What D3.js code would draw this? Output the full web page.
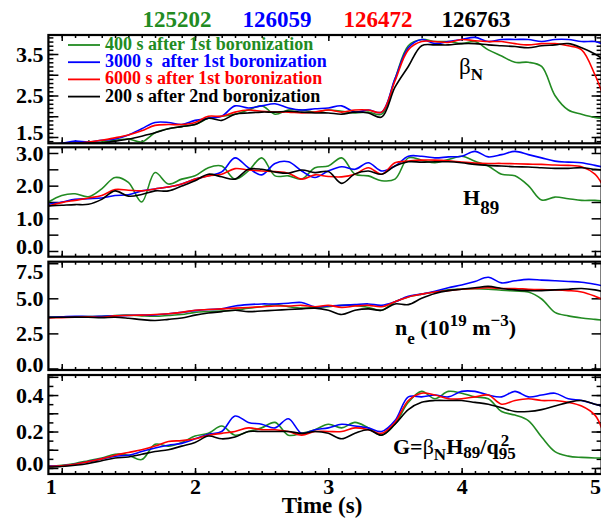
<!DOCTYPE html>
<html>
<head>
<meta charset="utf-8">
<script src="https://cdn.jsdelivr.net/npm/d3@7"></script>
</head>
<body style="margin:0">
<div id="chart"></div>
<script>
// time samples (s)
const time = [0.9, 1.0, 1.1, 1.2, 1.3, 1.4, 1.5, 1.6, 1.7, 1.8, 1.9, 2.0, 2.1, 2.2, 2.3, 2.4, 2.5,
    2.6, 2.7, 2.8, 2.9, 3.0, 3.1, 3.2, 3.3, 3.4, 3.5, 3.6, 3.7, 3.8, 3.9, 4.0, 4.1, 4.2, 4.3, 4.4,
    4.5, 4.6, 4.7, 4.8, 4.9, 5.0, 5.05];

const shots = ["125202", "126059", "126472", "126763"];
const legendLabels = ["400 s after 1st boronization", "3000 s\u00a0 after 1st boronization",
    "6000 s after 1st boronization", "200 s after 2nd boronization"];
const colors = ["#228b22", "#0000ff", "#ff0000", "#000000"];

// beta_N
const betaN_125202 = [1.3, 1.33, 1.35, 1.37, 1.38, 1.42, 1.45, 1.38, 1.6, 1.7, 1.75, 1.8, 1.95, 2.0, 2.05, 2.15, 2.25,
    2.05, 2.15, 2.15, 2.1, 2.15, 2.12, 2.08, 2.1, 2.05, 2.9, 3.7, 3.85, 3.8, 3.8, 3.75, 3.8, 3.6, 3.45, 3.3,
    3.3, 3.2, 2.5, 2.15, 2.05, 1.97, 1.95];
const betaN_126059 = [1.3, 1.35, 1.4, 1.38, 1.42, 1.45, 1.55, 1.7, 1.85, 1.85, 1.8, 1.9, 1.95, 2.0, 2.25, 2.2, 2.25,
    2.3, 2.2, 2.15, 2.18, 2.2, 2.25, 2.1, 2.15, 2.1, 2.9, 3.65, 3.85, 3.75, 3.8, 3.85, 3.9, 3.8, 3.85, 3.85,
    3.85, 3.8, 3.85, 3.85, 3.8, 3.8, 3.75];
const betaN_126472 = [1.3, 1.33, 1.35, 1.38, 1.42, 1.48, 1.55, 1.65, 1.78, 1.8, 1.8, 1.85, 2.0, 2.0, 2.1, 2.15, 2.12,
    2.1, 2.1, 2.08, 2.1, 2.15, 2.1, 2.15, 2.15, 2.1, 2.85, 3.6, 3.8, 3.8, 3.78, 3.85, 3.82, 3.8, 3.8, 3.75,
    3.72, 3.75, 3.75, 3.7, 3.6, 3.0, 2.6];
const betaN_126763 = [1.3, 1.32, 1.33, 1.35, 1.35, 1.4, 1.45, 1.52, 1.6, 1.7, 1.75, 1.8, 1.95, 1.9, 2.05, 2.08, 2.1,
    2.1, 2.12, 2.1, 2.08, 2.08, 2.05, 2.1, 2.08, 1.98, 2.7, 3.2, 3.7, 3.72, 3.72, 3.75, 3.75, 3.72, 3.7, 3.68,
    3.65, 3.7, 3.72, 3.75, 3.65, 3.5, 3.4];

// H89
const h89_125202 = [1.5, 1.7, 1.75, 1.66, 1.9, 2.25, 2.1, 1.5, 2.4, 2.05, 2.2, 2.3, 2.55, 2.6, 2.2, 2.45, 2.85,
    2.3, 2.3, 2.2, 2.55, 2.6, 2.85, 2.35, 2.3, 2.15, 2.2, 2.85, 2.78, 2.7, 2.8, 2.9, 2.75, 2.6, 2.35, 2.3,
    2.0, 1.56, 1.65, 1.6, 1.55, 1.55, 1.53];
const h89_126059 = [1.43, 1.5, 1.58, 1.6, 1.62, 1.7, 1.72, 1.84, 1.9, 1.96, 2.05, 2.2, 2.3, 2.42, 2.85, 2.55, 2.33,
    2.68, 2.73, 2.45, 2.25, 2.45, 2.58, 2.5, 2.7, 2.45, 2.6, 2.9, 2.9, 2.85, 2.88, 2.9, 3.05, 2.88, 2.95, 3.05,
    2.95, 2.85, 2.75, 2.72, 2.7, 2.62, 2.58];
const h89_126472 = [1.38, 1.48, 1.55, 1.62, 1.7, 1.88, 1.86, 1.84, 1.9, 1.96, 2.05, 2.2, 2.3, 2.35, 2.52, 2.48, 2.45,
    2.43, 2.38, 2.2, 2.33, 2.28, 2.27, 2.35, 2.55, 2.35, 2.7, 2.75, 2.78, 2.78, 2.76, 2.72, 2.69, 2.68, 2.68, 2.67,
    2.66, 2.65, 2.63, 2.62, 2.58, 2.35, 2.07];
const h89_126763 = [1.38, 1.4, 1.42, 1.43, 1.58, 1.84, 1.68, 1.73, 1.84, 1.84, 1.99, 2.15, 2.35, 2.27, 2.2, 2.5, 2.5,
    2.42, 2.38, 2.48, 2.4, 2.43, 2.07, 2.36, 2.45, 2.35, 2.6, 2.73, 2.72, 2.73, 2.73, 2.7, 2.65, 2.62, 2.6, 2.58,
    2.57, 2.55, 2.53, 2.53, 2.55, 2.5, 2.48];

// n_e (10^19 m^-3)
const ne_125202 = [3.64, 3.65, 3.68, 3.7, 3.72, 3.78, 3.8, 3.75, 3.72, 3.78, 3.85, 4.0, 4.05, 4.1, 4.15, 4.3, 4.4,
    4.55, 4.4, 4.3, 4.35, 4.4, 4.5, 4.5, 4.35, 4.15, 4.75, 5.1, 5.3, 5.45, 5.6, 5.65, 5.68, 5.65, 5.58, 5.52,
    5.45, 4.95, 4.0, 3.75, 3.6, 3.5, 3.45];
const ne_126059 = [3.64, 3.68, 3.72, 3.7, 3.72, 3.75, 3.78, 3.8, 3.82, 3.9, 4.0, 4.12, 4.2, 4.25, 4.45, 4.55, 4.6,
    4.6, 4.65, 4.7, 4.4, 4.45, 4.5, 4.55, 4.6, 4.5, 4.75, 5.15, 5.3, 5.5, 5.75, 5.95, 6.2, 6.5, 6.1, 6.25,
    6.35, 6.3, 6.25, 6.2, 6.15, 6.0, 5.9];
const ne_126472 = [3.6, 3.62, 3.65, 3.68, 3.65, 3.75, 3.78, 3.8, 3.85, 3.9, 4.0, 4.15, 4.2, 4.25, 4.3, 4.35, 4.4,
    4.45, 4.45, 4.5, 4.4, 4.5, 4.35, 4.45, 4.5, 4.4, 4.75, 5.1, 5.3, 5.45, 5.55, 5.65, 5.7, 5.75, 5.7, 5.7,
    5.65, 5.62, 5.6, 5.55, 5.45, 5.15, 4.95];
const ne_126763 = [3.64, 3.65, 3.66, 3.65, 3.62, 3.65, 3.58, 3.48, 3.42, 3.5, 3.6, 3.8, 3.95, 4.05, 4.15, 4.05, 4.1,
    4.15, 4.2, 4.25, 4.3, 4.15, 3.85, 4.15, 4.25, 4.15, 4.6, 4.55, 5.0, 5.35, 5.55, 5.65, 5.75, 5.85, 5.7, 5.6,
    5.55, 5.55, 5.6, 5.65, 5.7, 5.6, 5.5];

// G = beta_N H89 / q95^2
const g_125202 = [0.01, 0.015, 0.025, 0.04, 0.055, 0.075, 0.07, 0.046, 0.13, 0.12, 0.14, 0.175, 0.19, 0.23, 0.18, 0.2, 0.22,
    0.25, 0.18, 0.19, 0.21, 0.24, 0.22, 0.25, 0.22, 0.18, 0.24, 0.36, 0.42, 0.38, 0.42, 0.41, 0.39, 0.38, 0.31, 0.29,
    0.26, 0.17, 0.09, 0.065, 0.058, 0.055, 0.055];
const g_126059 = [0.01, 0.012, 0.02, 0.035, 0.05, 0.065, 0.07, 0.09, 0.11, 0.125, 0.135, 0.16, 0.185, 0.2, 0.285, 0.25, 0.24,
    0.22, 0.27, 0.19, 0.21, 0.22, 0.24, 0.23, 0.22, 0.2, 0.26, 0.39, 0.39, 0.4, 0.39, 0.42, 0.42, 0.4, 0.39, 0.42,
    0.39, 0.4, 0.41, 0.38, 0.37, 0.35, 0.34];
const g_126472 = [0.008, 0.012, 0.02, 0.035, 0.05, 0.07, 0.085, 0.1, 0.12, 0.145, 0.15, 0.16, 0.18, 0.19, 0.2, 0.22, 0.21,
    0.21, 0.2, 0.18, 0.2, 0.2, 0.2, 0.22, 0.21, 0.19, 0.25, 0.37, 0.41, 0.4, 0.38, 0.38, 0.39, 0.4, 0.35, 0.37,
    0.38, 0.37, 0.37, 0.36, 0.34, 0.29, 0.22];
const g_126763 = [0.005, 0.008, 0.015, 0.025, 0.04, 0.055, 0.06, 0.075, 0.09, 0.1, 0.12, 0.14, 0.175, 0.16, 0.17, 0.2, 0.2,
    0.2, 0.2, 0.19, 0.2, 0.19, 0.16, 0.19, 0.21, 0.18, 0.24, 0.32, 0.36, 0.37, 0.37, 0.37, 0.36, 0.35, 0.33, 0.31,
    0.31, 0.32, 0.34, 0.36, 0.37, 0.35, 0.34];

// tick labels
const timeTicks = [1, 2, 3, 4, 5];
const betaTicks = [1.5, 2.5, 3.5];
const h89Ticks = [0.0, 1.0, 2.0, 3.0];
const neTicks = [0.0, 2.5, 5.0, 7.5];
const gTicks = [0.0, 0.2, 0.4];

const W = 601, H = 519;
const x0 = 48.4, x1 = 601.6;
const FONT = "'Liberation Serif', 'Times New Roman', Tinos, serif";

const svg = d3.select("#chart")
    .append("svg")
    .attr("width", W)
    .attr("height", H);

svg.append("rect").attr("width", W).attr("height", H).attr("fill", "#fff");

const x = d3.scaleLinear()
    .domain([0.9, 5.05])
    .range([x0, x1]);

const panels = [
    { series: [betaN_125202, betaN_126059, betaN_126472, betaN_126763], top: 35, bottom: 143.3,
      domain: [1.348, 3.958], labels: betaTicks, major: 0.5, minor: 0.1 },
    { series: [h89_125202, h89_126059, h89_126472, h89_126763], top: 147.3, bottom: 256.7,
      domain: [-0.175, 3.174], labels: h89Ticks, major: 0.5, minor: null },
    { series: [ne_125202, ne_126059, ne_126472, ne_126763], top: 261.7, bottom: 370,
      domain: [-0.11, 7.61], labels: neTicks, major: 2.5, minor: null },
    { series: [g_125202, g_126059, g_126472, g_126763], top: 375, bottom: 474,
      domain: [-0.033, 0.51], labels: gTicks, major: 0.1, minor: 0.05 }
];

const fmt = d3.format(".1f");

function stepTicks(domain, step) {
    const start = Math.ceil(domain[0] / step - 1e-6) * step;
    return d3.range(start, domain[1] + 1e-6, step);
}

panels.forEach((p, i) => {
    const y = d3.scaleLinear().domain(p.domain).range([p.bottom, p.top]);
    const g = svg.append("g").attr("class", "panel");

    svg.append("clipPath").attr("id", "clip" + i)
        .append("rect")
        .attr("x", x0).attr("y", p.top)
        .attr("width", x1 - x0).attr("height", p.bottom - p.top);

    // minor y ticks
    if (p.minor) {
        g.append("g").attr("transform", `translate(${x0},0)`)
            .call(d3.axisLeft(y).tickValues(stepTicks(p.domain, p.minor)).tickSize(-5).tickFormat(""));
        g.append("g").attr("transform", `translate(${x1},0)`)
            .call(d3.axisRight(y).tickValues(stepTicks(p.domain, p.minor)).tickSize(-5).tickFormat(""));
    }
    // major y ticks
    g.append("g").attr("transform", `translate(${x0},0)`)
        .call(d3.axisLeft(y).tickValues(stepTicks(p.domain, p.major)).tickSize(-10).tickFormat(""));
    g.append("g").attr("transform", `translate(${x1},0)`)
        .call(d3.axisRight(y).tickValues(stepTicks(p.domain, p.major)).tickSize(-10).tickFormat(""));
    // y labels
    const yl = g.append("g").attr("class", "ylab").attr("transform", `translate(${x0},0)`)
        .call(d3.axisLeft(y).tickValues(p.labels).tickSize(0).tickPadding(5).tickFormat(fmt));
    // labels at the very edge of a frame are pulled inside, as in the original
    yl.selectAll(".tick text").attr("dy", d => {
        const py = y(d);
        if (py - p.top < 4) return "0.7em";
        if (p.bottom - py < 7) return "0.12em";
        return "0.32em";
    });

    // x ticks, top and bottom
    const xMinor = stepTicks([1, 5.05], 0.1);
    g.append("g").attr("transform", `translate(0,${p.top})`)
        .call(d3.axisTop(x).tickValues(xMinor).tickSize(-3).tickFormat(""));
    g.append("g").attr("transform", `translate(0,${p.top})`)
        .call(d3.axisTop(x).tickValues(timeTicks).tickSize(-6).tickFormat(""));
    g.append("g").attr("transform", `translate(0,${p.bottom})`)
        .call(d3.axisBottom(x).tickValues(xMinor).tickSize(-3).tickFormat(""));
    const xb = g.append("g").attr("class", "xlab").attr("transform", `translate(0,${p.bottom})`)
        .call(d3.axisBottom(x).tickValues(timeTicks).tickSize(-6).tickPadding(4)
            .tickFormat(i === panels.length - 1 ? d3.format("d") : ""));

    g.selectAll(".domain").remove();
    g.selectAll("g").attr("font-family", null).attr("font-size", null);
    g.selectAll(".tick line").attr("stroke", "#000").attr("stroke-width", 1.5);
    g.selectAll(".ylab text, .xlab text")
        .attr("font-size", 22)
        .attr("fill", "#000");
    // first time label sits at the frame edge in the original
    xb.selectAll(".tick text").filter(d => d === 1).attr("dx", -11);

    // data
    const line = d3.line()
        .x((d, k) => x(time[k]))
        .y(d => y(d))
        .curve(d3.curveCatmullRom);

    g.append("g").attr("clip-path", `url(#clip${i})`)
        .selectAll("path")
        .data(p.series)
        .join("path")
        .attr("fill", "none")
        .attr("stroke", (d, k) => colors[k])
        .attr("stroke-width", 1.6)
        .attr("d", line);

    // frame
    g.append("rect")
        .attr("x", x0).attr("y", p.top)
        .attr("width", x1 - x0).attr("height", p.bottom - p.top)
        .attr("fill", "none")
        .attr("stroke", "#000")
        .attr("stroke-width", 2.2);
});

// shot numbers across the top
const shotX = [177, 277, 378, 476];
svg.append("g")
    .selectAll("text")
    .data(shots)
    .join("text")
    .attr("x", (d, i) => shotX[i])
    .attr("y", 27)
    .attr("text-anchor", "middle")
    .attr("font-size", 23)
    .attr("fill", (d, i) => colors[i])
    .text(d => d);

// legend in the first panel
const legend = svg.append("g")
    .selectAll("g")
    .data(legendLabels)
    .join("g")
    .attr("transform", (d, i) => `translate(68,${50 + i * 17.2})`);
legend.append("line")
    .attr("x1", 0).attr("x2", 32)
    .attr("y1", -5).attr("y2", -5)
    .attr("stroke", (d, i) => colors[i])
    .attr("stroke-width", 1.8);
legend.append("text")
    .attr("x", 37)
    .attr("font-size", 18)
    .attr("fill", (d, i) => colors[i])
    .text(d => d);

// panel labels
const bn = svg.append("text").attr("x", 459).attr("y", 74).attr("font-size", 23);
bn.append("tspan").attr("class", "thin").text("β");
bn.append("tspan").attr("font-size", 17).attr("dy", 6).text("N");

const h = svg.append("text").attr("x", 463).attr("y", 205).attr("font-size", 22);
h.append("tspan").text("H");
h.append("tspan").attr("font-size", 19).attr("dy", 9).text("89");

const ne = svg.append("text").attr("x", 395).attr("y", 335).attr("font-size", 22);
ne.append("tspan").text("n");
ne.append("tspan").attr("font-size", 17).attr("dy", 9).text("e");
ne.append("tspan").attr("dy", -9).text(" (10");
ne.append("tspan").attr("font-size", 17).attr("dy", -9).text("19");
ne.append("tspan").attr("dy", 9).text(" m");
ne.append("tspan").attr("font-size", 17).attr("dy", -9).text("−3");
ne.append("tspan").attr("dy", 9).text(")");

const gl = svg.append("text").attr("x", 393).attr("y", 454).attr("font-size", 22);
gl.append("tspan").text("G=");
gl.append("tspan").attr("class", "thin").text("β");
gl.append("tspan").attr("font-size", 17).attr("dy", 6).text("N");
gl.append("tspan").attr("dy", -6).text("H");
gl.append("tspan").attr("font-size", 17).attr("dy", 4).text("89");
gl.append("tspan").attr("dy", -4).text("/q");
const q95 = gl.append("tspan").attr("font-size", 17).attr("dy", 5).text("95");
const sup2 = gl.append("tspan").attr("font-size", 17).attr("dy", -13).text("2");

// x axis title
svg.append("text")
    .attr("x", 322)
    .attr("y", 513)
    .attr("text-anchor", "middle")
    .attr("font-size", 23)
    .text("Time (s)");

// serif bold set on every text element itself
svg.selectAll("text")
    .attr("font-family", FONT)
    .style("font-family", FONT)
    .style("font-weight", "bold");
svg.selectAll("tspan.thin").style("font-weight", "normal");

// superscript 2 stacked above the 95 subscript
sup2.attr("dx", -q95.node().getComputedTextLength() + 2);
</script>
</body>
</html>
